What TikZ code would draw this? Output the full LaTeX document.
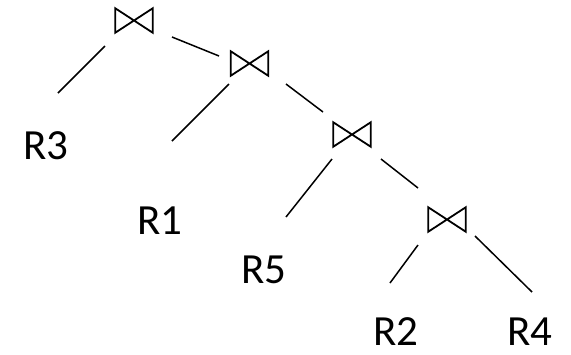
\documentclass[tikz,border=0pt]{standalone}
\usepackage{fontspec}
\setmainfont{Carlito}
\begin{document}
\begin{tikzpicture}[x=1pt,y=-1pt,
  joinbox/.style={minimum width=37pt,minimum height=24pt,inner sep=0pt},
  bowtie/.style={line width=1.8pt,line join=miter},
  relnode/.style={inner sep=0pt,font=\fontsize{43}{43}\selectfont},
  connector/.style={line width=1.5pt}]
\useasboundingbox (0,0) rectangle (571,354);
\node[joinbox] (j1) at (134,20.5) {};
\node[joinbox] (j2) at (249.5,63.5) {};
\node[joinbox] (j3) at (352,134.5) {};
\node[joinbox] (j4) at (447,219.5) {};
\foreach \j in {j1,j2,j3,j4}
  \draw[bowtie] (\j.north west) -- (\j.south east) -- (\j.north east) -- (\j.south west) -- cycle;
\node[relnode] (r3) at (46,145.5) {R3};
\node[relnode] (r1) at (160,221) {R1};
\node[relnode] (r5) at (264,269.5) {R5};
\node[relnode] (r2) at (396,332) {R2};
\node[relnode] (r4) at (530,332) {R4};
\coordinate (a1) at (105,46); \coordinate (b1) at (58,93);
\coordinate (a2) at (172,37); \coordinate (b2) at (219,56);
\coordinate (a3) at (229,84); \coordinate (b3) at (172,141);
\coordinate (a4) at (286,84); \coordinate (b4) at (323,112);
\coordinate (a5) at (332,159); \coordinate (b5) at (286,217);
\coordinate (a6) at (381,159); \coordinate (b6) at (418,188);
\coordinate (a7) at (418,245); \coordinate (b7) at (390,283);
\coordinate (a8) at (475,236); \coordinate (b8) at (532,292);
\foreach \i in {1,...,8} \draw[connector] (a\i) -- (b\i);
\end{tikzpicture}
\end{document}
